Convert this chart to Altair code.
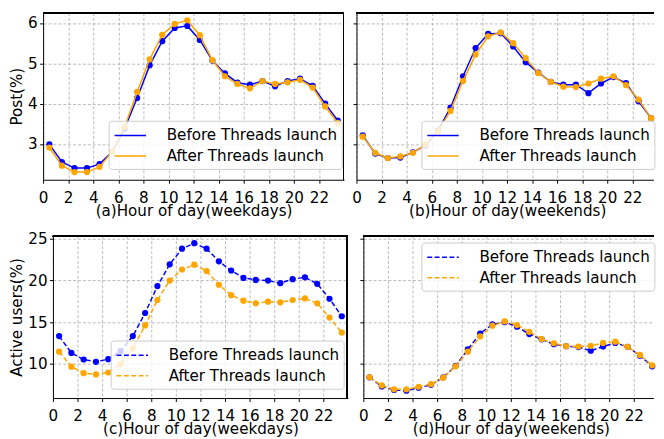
import altair as alt
import pandas as pd

HOURS = [0.5, 1.5, 2.5, 3.5, 4.5, 5.5, 6.5, 7.5, 8.5, 9.5, 10.5, 11.5,
         12.5, 13.5, 14.5, 15.5, 16.5, 17.5, 18.5, 19.5, 20.5, 21.5, 22.5, 23.5]
SERIES = ["Before Threads launch", "After Threads launch"]
COLORS = ["blue", "orange"]
X_TICKS = [0, 2, 4, 6, 8, 10, 12, 14, 16, 18, 20, 22]

POST_WD_BEFORE = [2.99, 2.55, 2.40, 2.40, 2.50, 2.80, 3.38, 4.14, 4.95, 5.55, 5.88, 5.93,
                  5.58, 5.07, 4.75, 4.52, 4.47, 4.56, 4.43, 4.56, 4.62, 4.44, 4.00, 3.58]
POST_WD_AFTER = [2.91, 2.46, 2.30, 2.30, 2.43, 2.80, 3.42, 4.29, 5.10, 5.71, 5.98, 6.07,
                 5.70, 5.08, 4.68, 4.49, 4.38, 4.56, 4.49, 4.53, 4.59, 4.40, 3.93, 3.52]
POST_WE_BEFORE = [3.21, 2.76, 2.65, 2.66, 2.79, 2.96, 3.33, 3.90, 4.68, 5.38, 5.73, 5.75,
                  5.42, 5.03, 4.77, 4.54, 4.47, 4.47, 4.26, 4.50, 4.66, 4.51, 4.06, 3.64]
POST_WE_AFTER = [3.18, 2.78, 2.65, 2.69, 2.78, 2.98, 3.32, 3.82, 4.56, 5.22, 5.67, 5.77,
                 5.50, 5.13, 4.76, 4.54, 4.42, 4.41, 4.50, 4.62, 4.68, 4.46, 4.10, 3.64]
USERS_WD_BEFORE = [13.33, 11.32, 10.54, 10.27, 10.58, 11.55, 13.33, 16.09, 19.30, 21.90, 23.76, 24.42,
                   23.76, 22.25, 21.16, 20.27, 20.04, 19.96, 19.65, 20.12, 20.35, 19.57, 17.79, 15.70]
USERS_WD_AFTER = [11.47, 9.69, 8.91, 8.76, 8.99, 10.00, 11.86, 14.61, 17.64, 19.96, 21.28, 21.86,
                  21.09, 19.46, 18.22, 17.56, 17.25, 17.44, 17.36, 17.64, 17.83, 17.25, 15.54, 13.76]
USERS_WE_BEFORE = [8.41, 7.33, 6.90, 6.82, 7.17, 7.52, 8.41, 9.77, 11.74, 13.64, 14.73, 15.00,
                   14.46, 13.57, 12.95, 12.36, 12.13, 12.02, 11.59, 12.09, 12.52, 12.05, 11.00, 9.73]
USERS_WE_AFTER = [8.41, 7.44, 6.98, 6.98, 7.29, 7.60, 8.37, 9.73, 11.47, 13.29, 14.57, 15.08,
                  14.65, 13.84, 12.98, 12.48, 12.13, 12.09, 12.17, 12.52, 12.67, 12.05, 11.08, 9.85]

FONT = "DejaVu Sans"
FS = 15.4
TXT = dict(labelFont=FONT, titleFont=FONT, labelFontSize=FS, titleFontSize=FS,
           labelColor="black", titleColor="black", titleFontWeight="normal",
           tickColor="black", tickSize=3.5, tickWidth=1)
GRID = dict(grid=True, gridColor="#aaaaaa", gridDash=[3, 2], gridWidth=0.8)


def make_panel(before, after, xtitle, ytitle, ydomain, yticks, xmax, width, height,
               dash, is_left, legend_x, legend_y, title_x=None):
    df = pd.DataFrame({
        "hour": HOURS + HOURS,
        "value": before + after,
        "series": [SERIES[0]] * len(HOURS) + [SERIES[1]] * len(HOURS),
    })
    xscale = alt.Scale(domain=[0, xmax], nice=False, zero=False)
    yscale = alt.Scale(domain=ydomain, nice=False, zero=False)

    leg_kw = dict(title=None, orient="none", legendX=legend_x, legendY=legend_y,
                  symbolType="M-1.6,0H1.6", symbolSize=400, symbolStrokeWidth=1.5,
                  symbolOffset=7,
                  labelFont=FONT, labelFontSize=FS, labelColor="black", labelOffset=26,
                  labelLimit=400, rowPadding=0.8, padding=4,
                  fillColor="rgba(255,255,255,0.8)", strokeColor="#cccccc",
                  cornerRadius=3)
    if dash:
        leg_kw["symbolDash"] = dash
    color = alt.Color("series:N", sort=SERIES,
                      scale=alt.Scale(domain=SERIES, range=COLORS),
                      legend=alt.Legend(**leg_kw))

    xaxis_kw = dict(orient="bottom", values=X_TICKS, title=xtitle, labelFlush=False,
                    labelOverlap=False, labelPadding=7.5, titlePadding=-2.5,
                    domain=True, domainColor="black", domainWidth=1,
                    **GRID, **TXT)
    if title_x is not None:
        xaxis_kw["titleX"] = title_x
    yaxis_kw = dict(orient="left", values=yticks, labels=is_left, labelPadding=2.5,
                    titlePadding=3, domain=True, domainColor="black",
                    domainWidth=1, labelFlush=False, **GRID, **TXT)
    yaxis_kw["title"] = ytitle if is_left else None

    enc = dict(
        x=alt.X("hour:Q", scale=xscale, axis=alt.Axis(**xaxis_kw)),
        y=alt.Y("value:Q", scale=yscale, axis=alt.Axis(**yaxis_kw)),
        color=color,
    )

    line_kw = dict(strokeWidth=1.5)
    if dash:
        line_kw["strokeDash"] = dash

    layers = []
    for s in SERIES:
        base = alt.Chart(df).transform_filter(alt.datum.series == s)
        layers.append(base.mark_line(**line_kw).encode(**enc))
        layers.append(base.mark_point(filled=True, size=40, opacity=1).encode(**enc))

    # frame: top edge for every panel, right edge only for the left panels
    layers.append(alt.Chart(df).mark_rule(color="black", strokeWidth=1).encode(
        x=alt.value(0), x2=alt.value(width), y=alt.value(0.5)))
    if is_left:
        layers.append(alt.Chart(df).mark_rule(color="black", strokeWidth=1).encode(
            x=alt.value(width - 0.5), y=alt.value(0), y2=alt.value(height)))

    view = alt.ViewBackground(stroke="transparent")
    return alt.layer(*layers).properties(width=width, height=height, view=view)


def spacer(w, h):
    return alt.Chart(pd.DataFrame({"v": [0]})).mark_point(opacity=0, size=1).encode(
        x=alt.value(w / 2), y=alt.value(h / 2)).properties(
        width=w, height=h, view=alt.ViewBackground(stroke="transparent"))


TOP_Y = [2.11, 6.26]
BOT_Y = [5.94, 25.3]

a = make_panel(POST_WD_BEFORE, POST_WD_AFTER, "(a)Hour of day(weekdays)", "Post(%)",
               TOP_Y, [3, 4, 5, 6], 24, 306, 170, None, True, 66.7, 110)
b = make_panel(POST_WE_BEFORE, POST_WE_AFTER, "(b)Hour of day(weekends)", None,
               TOP_Y, [3, 4, 5, 6], 23.686, 302, 170, None, False, 66, 110, title_x=153.3)
c = make_panel(USERS_WD_BEFORE, USERS_WD_AFTER, "(c)Hour of day(weekdays)", "Active users(%)",
               BOT_Y, [10, 15, 20, 25], 24, 300, 165, [5, 2.5], True, 58.7, 106.5)
d = make_panel(USERS_WE_BEFORE, USERS_WE_AFTER, "(d)Hour of day(weekends)", None,
               BOT_Y, [10, 15, 20, 25], 23.6, 295, 165, [5, 2.5], False, 59, 6.8, title_x=150)

row1 = alt.hconcat(spacer(1, 170), a, b, spacing=12.7, bounds="flush").resolve_scale(
    x="independent", y="independent", color="independent").resolve_legend(color="independent")
row2 = alt.hconcat(spacer(8, 165), c, d, spacing=15.7, bounds="flush").resolve_scale(
    x="independent", y="independent", color="independent").resolve_legend(color="independent")

chart = alt.concat(row1, row2, columns=1, align="none", spacing=12).resolve_scale(
    x="independent", y="independent", color="independent").resolve_legend(
    color="independent").properties(
    padding={"left": 1, "top": 0, "right": 0, "bottom": 0}
).configure(font=FONT)

chart.save("out.html", embed_options={"renderer": "svg", "actions": False})
